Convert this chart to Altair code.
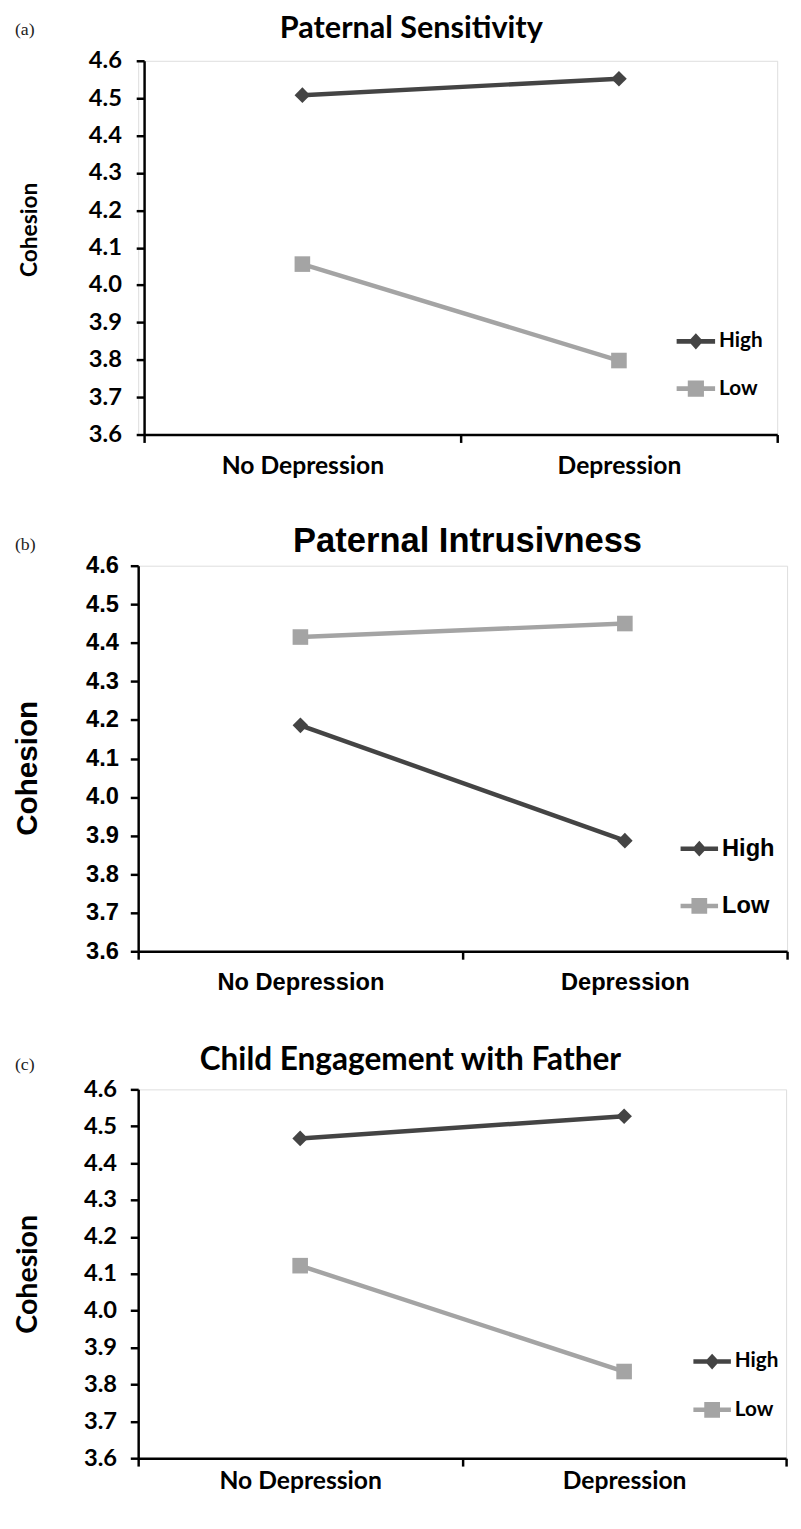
import altair as alt
import pandas as pd

# ---------------- data ----------------
conditions = ["No Depression", "Depression"]
groups = ["High", "Low"]
panel_tags = ["(a)", "(b)", "(c)"]
panel_titles = ["Paternal Sensitivity", "Paternal Intrusivness", "Child Engagement with Father"]
y_ticks = [3.6, 3.7, 3.8, 3.9, 4.0, 4.1, 4.2, 4.3, 4.4, 4.5, 4.6]

high_a = [4.508, 4.552]
low_a = [4.056, 3.798]
high_b = [4.186, 3.887]
low_b = [4.415, 4.450]
high_c = [4.467, 4.527]
low_c = [4.122, 3.835]

series = [(high_a, low_a), (high_b, low_b), (high_c, low_c)]

# ---------------- style ----------------
DARK = "#444444"
LIGHT = "#a4a4a4"
HIGH_PATH = "M-1,-0.12H1V0.12H-1Z M0,-0.42L0.38,0L0,0.42L-0.38,0Z"
LOW_PATH = "M-1,-0.12H1V0.12H-1Z M-0.42,-0.42H0.42V0.42H-0.42Z"

# all panels share the same group origin; panel (a) has its axes inset by 6px
styles = [
    dict(font="Lato", inset=6, w=642, h=379, title_size=31, title_x=277, title_y=-23, tag_x=-125, tag_y=-26,
         tick_size=24, tick_pad=15, xlab_size=25, xlab_pad=12, ytitle_size=23, ytitle_x=-109, ytitle_y=171,
         leg_size=21, leg_x=546, leg_y=265, leg_sym=39, leg_row=18),
    dict(font="Liberation Sans", inset=0, w=658, h=391, title_size=35, title_x=334, title_y=-14, tag_x=-125,
         tag_y=-16, tick_size=24, tick_pad=12, xlab_size=24, xlab_pad=12, ytitle_size=30, ytitle_x=-103,
         ytitle_y=205, leg_size=24, leg_x=550, leg_y=268, leg_sym=38, leg_row=27),
    dict(font="Lato", inset=0, w=657, h=374, title_size=32, title_x=276, title_y=-20, tag_x=-125, tag_y=-20,
         tick_size=24, tick_pad=14, xlab_size=25, xlab_pad=3, ytitle_size=29, ytitle_x=-103, ytitle_y=187,
         leg_size=21, leg_x=563, leg_y=257, leg_sym=38, leg_row=20),
]


def make_panel(i):
    high, low = series[i]
    st = styles[i]
    inset = st["inset"]
    total_w = st["w"] + inset
    df = pd.DataFrame({
        "Condition": conditions * 2,
        "Group": [groups[0]] * 2 + [groups[1]] * 2,
        "Cohesion": high + low,
    })
    x_enc = alt.X(
        "Condition:N",
        sort=conditions,
        scale=alt.Scale(type="band", domain=conditions, paddingInner=0, paddingOuter=0,
                        range=[inset, total_w]),
        axis=alt.Axis(
            title=None, labelAngle=0, tickBand="extent", grid=False,
            domainColor="black", domainWidth=2.5, tickColor="black", tickWidth=2.5, tickSize=8,
            labelFont=st["font"], labelFontSize=st["xlab_size"], labelFontWeight="bold",
            labelColor="black", labelPadding=st["xlab_pad"],
        ),
    )
    y_enc = alt.Y(
        "Cohesion:Q",
        scale=alt.Scale(domain=[3.6, 4.6], zero=False, nice=False),
        axis=alt.Axis(
            values=y_ticks, format=".1f", grid=False, offset=-inset,
            domainColor="black", domainWidth=2.5, tickColor="black", tickWidth=2.5, tickSize=8,
            labelFont=st["font"], labelFontSize=st["tick_size"], labelFontWeight="bold",
            labelColor="black", labelPadding=st["tick_pad"],
            title="Cohesion", titleFont=st["font"], titleFontSize=st["ytitle_size"],
            titleFontWeight="bold", titleColor="black", titleAngle=270,
            titleAlign="center", titleBaseline="alphabetic",
            titleX=st["ytitle_x"], titleY=st["ytitle_y"],
        ),
    )
    color_scale = alt.Scale(domain=groups, range=[DARK, LIGHT])
    sym = st["leg_sym"]
    legend = alt.Legend(
        title=None, orient="none", legendX=st["leg_x"], legendY=st["leg_y"], direction="vertical",
        padding=0, labelFont=st["font"], labelFontSize=st["leg_size"], labelFontWeight="bold",
        labelColor="black", labelOffset=4, rowPadding=st["leg_row"], symbolSize=sym * sym,
        symbolStrokeWidth=0, symbolOpacity=1,
    )
    base = alt.Chart(df)
    lines = base.mark_line(strokeWidth=4.5).encode(
        x=x_enc, y=y_enc,
        color=alt.Color("Group:N", scale=color_scale, legend=None),
        detail="Group:N",
    )
    points = base.mark_point(filled=True, opacity=1, size=250).encode(
        x=x_enc, y=y_enc,
        color=alt.Color("Group:N", scale=color_scale, legend=None),
        shape=alt.Shape("Group:N", scale=alt.Scale(domain=groups, range=["diamond", "square"]), legend=None),
    )
    legend_layer = base.mark_point(filled=True, opacity=0, size=1).encode(
        x=x_enc, y=y_enc,
        color=alt.Color("Group:N", scale=color_scale, legend=legend),
        shape=alt.Shape("Group:N", scale=alt.Scale(domain=groups, range=[HIGH_PATH, LOW_PATH]), legend=legend),
    )
    title_text = alt.Chart(pd.DataFrame({"t": [panel_titles[i]]})).mark_text(
        font=st["font"], fontSize=st["title_size"], fontWeight="bold", color="black",
        align="center", baseline="alphabetic",
    ).encode(text="t:N", x=alt.value(st["title_x"]), y=alt.value(st["title_y"]))
    tag_text = alt.Chart(pd.DataFrame({"t": [panel_tags[i]]})).mark_text(
        font="Liberation Serif", fontSize=18, color="#222222",
        align="left", baseline="alphabetic",
    ).encode(text="t:N", x=alt.value(st["tag_x"]), y=alt.value(st["tag_y"]))
    return alt.layer(lines, points, legend_layer, title_text, tag_text).resolve_scale(
        color="independent", shape="independent"
    ).properties(width=total_w, height=st["h"])


top_pair = alt.concat(make_panel(0), make_panel(1), columns=1, spacing=44, align="none")
chart = alt.concat(top_pair, make_panel(2), columns=1, spacing=48, align="none").properties(
    padding={"left": 4, "top": -6, "right": 4, "bottom": 4}
).configure_view(stroke=None).configure(background="white")

chart.save("out.html", embed_options={"renderer": "svg", "actions": False})
